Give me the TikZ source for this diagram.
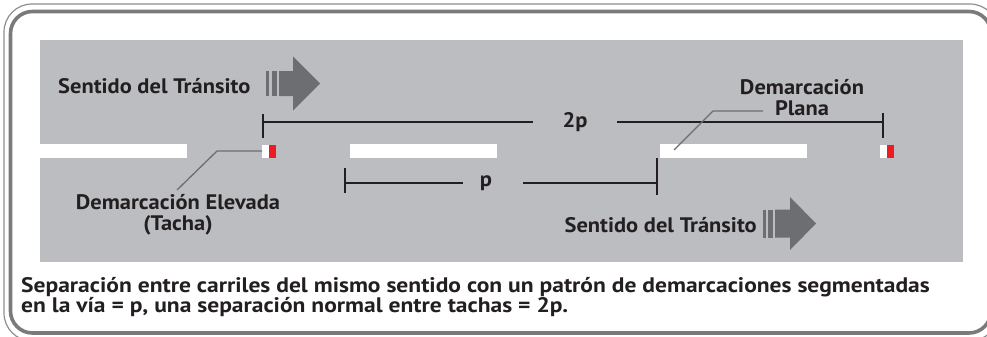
\documentclass[tikz,border=0pt]{standalone}
\usepackage{fontspec}
\setmainfont{PT Sans}
\newfontfamily\labelfont{PT Sans}[FakeStretch=1.07]
\newfontfamily\capfont{PT Sans}[FakeStretch=1.12]
\usetikzlibrary{positioning}

\definecolor{panelgray}{HTML}{BCBDC0}
\definecolor{framegray}{HTML}{7A7A7C}
\definecolor{arrowgray}{HTML}{6D6E71}
\definecolor{inkdark}{HTML}{231F20}
\definecolor{tachared}{HTML}{ED1C24}

\begin{document}
\begin{tikzpicture}[
  x=1pt, y=-1pt,
  label/.style={
    font=\labelfont\bfseries\fontsize{21}{21}\selectfont, text=inkdark,
    inner sep=0pt, align=center
  },
  caption/.style={
    font=\capfont\bfseries\fontsize{21}{19}\selectfont, text=inkdark,
    inner sep=0pt, align=left
  },
  dimline/.style={draw=inkdark, line width=1.1pt},
  dimtext/.style={
    font=\labelfont\bfseries\fontsize{21}{21}\selectfont, text=inkdark,
    fill=panelgray, inner sep=0pt, minimum height=16pt
  },
  leader/.style={draw=arrowgray, line width=1.3pt},
  stripe/.style={fill=white},
  tachawhite/.style={fill=white},
  tachareddot/.style={fill=tachared},
  flowarrow/.style={fill=arrowgray},
]

\useasboundingbox (0,0) rectangle (987,337);
\clip (0,0) rectangle (987,337);
\fill[white] (0,0) rectangle (987,337);

%% Double frame
\draw[framegray!85, line width=1.2pt, rounded corners=28pt] (4,4) rectangle (998,341);
\draw[framegray, line width=3.6pt, rounded corners=22pt] (10.5,11.5) rectangle (991,333);

%% Road panel
\fill[panelgray] (40,40) rectangle (963,262);

%% Lane stripes (flat markings)
\fill[stripe] (40,144)  rectangle (187,158);
\fill[stripe] (350,144) rectangle (497,158);
\fill[stripe] (660,144) rectangle (807,158);

%% Raised markers (tachas)
\fill[tachawhite]  (262,145) rectangle (269,158);
\fill[tachareddot] (269,145) rectangle (276,158);
\fill[tachawhite]  (880,145) rectangle (887,158);
\fill[tachareddot] (887,145) rectangle (894,158);

%% Traffic direction labels and arrows
\node[label, anchor=base west] (dirtop) at (58,93) {Sentido del Tránsito};
\begin{scope}[shift={(266,83.5)}]
  \fill[flowarrow] (0,-12.5) rectangle (3,12.5);
  \fill[flowarrow] (6,-12.5) rectangle (11,12.5);
  \fill[flowarrow] (13,-12.5) -- (27,-12.5) -- (27,-27) -- (54,0)
    -- (27,27) -- (27,12.5) -- (13,12.5) -- cycle;
\end{scope}

\node[label, anchor=base east] (dirbot) at (757,232) {Sentido del Tránsito};
\begin{scope}[shift={(763,223.5)}]
  \fill[flowarrow] (0,-14) rectangle (3,14);
  \fill[flowarrow] (5,-14) rectangle (10,14);
  \fill[flowarrow] (12,-14) -- (27,-14) -- (27,-26.5) -- (53,0)
    -- (27,26.5) -- (27,14) -- (12,14) -- cycle;
\end{scope}

%% Dimension 2p
\coordinate (twopL) at (263,122);
\coordinate (twopR) at (883,122);
\draw[dimline] (263,114) -- (263,138);
\draw[dimline] (883,113) -- (883,138);
\node[dimtext, minimum width=84pt] (twop) at (575,122) {\raisebox{3pt}{2p}};
\draw[dimline] (twopL) -- (twop.west);
\draw[dimline] (twop.east) -- (twopR);

%% Dimension p
\coordinate (pL) at (345,183);
\coordinate (pR) at (657,183);
\draw[dimline] (345,168) -- (345,193);
\draw[dimline] (657,158) -- (657,195);
\node[dimtext, minimum width=60pt] (pdim) at (493,183) {\hspace*{-14pt}\raisebox{1pt}{p}};
\draw[dimline] (pL) -- (pdim.west);
\draw[dimline] (pdim.east) -- (pR);

%% Raised marker callout
\node[label] (elevada) at (178,215) {Demarcación Elevada\\(Tacha)};
\coordinate (tachaA) at (262,151);
\coordinate (elevadaTip) at (177,190);
\draw[leader] (tachaA) -- (217,151) -- (elevadaTip);

%% Flat marking callout
\node[label] (plana) at (802,98) {Demarcación\\Plana};
\coordinate (stripeC) at (674,150);
\draw[leader] (stripeC) -- (713,111) -- (763,111);

%% Caption
\node[caption, anchor=west] (note) at (21,297)
  {Separación entre carriles del mismo sentido con un patrón de demarcaciones segmentadas\\
   en la vía = p, una separación normal entre tachas = 2p.};

\end{tikzpicture}
\end{document}
